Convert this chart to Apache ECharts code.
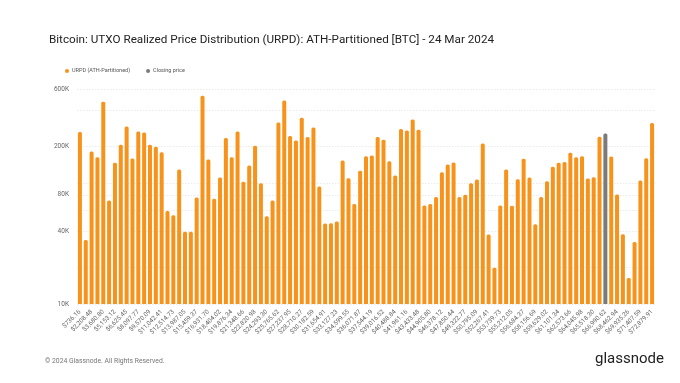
<!DOCTYPE html>
<html>
<head>
<meta charset="utf-8">
<script src="https://cdn.jsdelivr.net/npm/echarts@6/dist/echarts.min.js"></script>
<style>html,body{margin:0;padding:0;background:#fff;}#c{width:680px;height:383px;}</style>
</head>
<body>
<div id="c"></div>
<script>
const priceBins = [
'$736.16','$1,472.32','$2,208.48','$2,944.64','$3,680.80','$4,416.96','$5,153.12','$5,889.29','$6,625.45','$7,361.61',
'$8,097.77','$8,833.93','$9,570.09','$10,306.25','$11,042.41','$11,778.57','$12,514.73','$13,250.89','$13,987.05','$14,723.21',
'$15,459.37','$16,195.54','$16,931.70','$17,667.86','$18,404.02','$19,140.18','$19,876.34','$20,612.50','$21,348.66','$22,084.82',
'$22,820.98','$23,557.14','$24,293.30','$25,029.46','$25,765.62','$26,501.78','$27,237.95','$27,974.11','$28,710.27','$29,446.43',
'$30,182.59','$30,918.75','$31,654.91','$32,391.07','$33,127.23','$33,863.39','$34,599.55','$35,335.71','$36,071.87','$36,808.03',
'$37,544.19','$38,280.36','$39,016.52','$39,752.68','$40,488.84','$41,225.00','$41,961.16','$42,697.32','$43,433.48','$44,169.64',
'$44,905.80','$45,641.96','$46,378.12','$47,114.28','$47,850.44','$48,586.61','$49,322.77','$50,058.93','$50,795.09','$51,531.25',
'$52,267.41','$53,003.57','$53,739.73','$54,475.89','$55,212.05','$55,948.21','$56,684.37','$57,420.53','$58,156.69','$58,892.86',
'$59,629.02','$60,365.18','$61,101.34','$61,837.50','$62,573.66','$63,309.82','$64,045.98','$64,782.14','$65,518.30','$66,254.46',
'$66,990.62','$67,726.78','$68,462.94','$69,199.10','$69,935.26','$70,671.43','$71,407.59','$72,143.75','$72,879.91'
];
const urpdValues = [
264000,33900,182600,163900,471000,71700,147100,207400,294000,159700,
267400,262300,207400,199600,180300,58900,54200,129600,39500,39500,
76000,528000,156800,74100,111200,235500,163900,267400,102400,139800,
203500,99800,53200,71700,317500,483000,244600,225300,347000,240100,
288600,93700,46300,46600,48100,153800,109800,67300,126300,167100,
169200,240100,228200,151900,115500,279600,272600,336200,276100,65200,
67300,76900,123100,142500,148100,76900,79900,99800,107100,212700,
37500,19900,65200,129600,64800,107800,158700,111200,45700,76900,
103700,136300,147100,149100,178000,163900,167100,109100,111900,241500,
257400,166000,80400,37800,16400,32600,105000,160800,313500
];
const closingPriceBin = '$66,990.62';
const yLabelValues = [10000, 40000, 80000, 200000, 600000];
const yGridValues = [10000, 20000, 40000, 60000, 80000, 100000, 200000, 400000, 600000];

const closingIdx = priceBins.indexOf(closingPriceBin);
const urpdData = urpdValues.map((v, i) => i === closingIdx ? '-' : v);
const closeData = urpdValues.map((v, i) => i === closingIdx ? v : '-');

const FONT = 'Roboto';
const chart = echarts.init(document.getElementById('c'), null, {renderer: 'canvas'});
chart.setOption({
  animation: false,
  backgroundColor: '#ffffff',
  textStyle: {fontFamily: FONT},
  title: {
    text: 'Bitcoin: UTXO Realized Price Distribution (URPD): ATH-Partitioned [BTC] - 24 Mar 2024',
    left: 44, top: 29,
    textStyle: {fontFamily: FONT, fontSize: 11.7, fontWeight: 'normal', color: '#222'}
  },
  legend: {
    left: 60, top: 63,
    icon: 'circle', itemWidth: 4, itemHeight: 4, itemGap: 16,
    textStyle: {fontFamily: FONT, fontSize: 5.5, color: '#555', padding: [0, 0, 0, -2]},
    data: ['URPD (ATH-Partitioned)', 'Closing price']
  },
  grid: {left: 77, right: 25, top: 89, bottom: 79, containLabel: false},
  xAxis: {
    type: 'category',
    data: priceBins,
    axisLine: {show: false},
    axisTick: {show: false},
    axisLabel: {
      interval: 1, rotate: 45, margin: 7,
      fontFamily: FONT, fontSize: 6.3, color: '#666'
    }
  },
  yAxis: {
    type: 'log', logBase: 10, min: 10000, max: 600000,
    axisLine: {show: false},
    axisTick: {show: false, customValues: yGridValues},
    axisLabel: {
      customValues: yLabelValues,
      margin: 8, fontFamily: FONT, fontSize: 6.5, color: '#666',
      formatter: v => (v / 1000) + 'K'
    },
    splitLine: {show: true, lineStyle: {color: '#e6e6e6', type: [1.5, 1.5], width: 0.8}}
  },
  series: [
    {
      name: 'URPD (ATH-Partitioned)', type: 'bar', data: urpdData,
      barWidth: 4, barGap: '-100%',
      itemStyle: {color: '#f7931a', borderRadius: [1.5, 1.5, 0, 0]}
    },
    {
      name: 'Closing price', type: 'bar', data: closeData,
      barWidth: 4, barGap: '-100%',
      itemStyle: {color: '#7b7b7b', borderRadius: [1.5, 1.5, 0, 0]}
    }
  ],
  graphic: [
    {type: 'text', left: 45, top: 358, style: {text: '\u00A9 2024 Glassnode. All Rights Reserved.', fontFamily: FONT, fontSize: 6.8, fill: '#777'}},
    {type: 'text', right: 16, top: 352, style: {text: 'glassnode', fontFamily: FONT, fontSize: 15, fill: '#222'}}
  ]
});
</script>
</body>
</html>
